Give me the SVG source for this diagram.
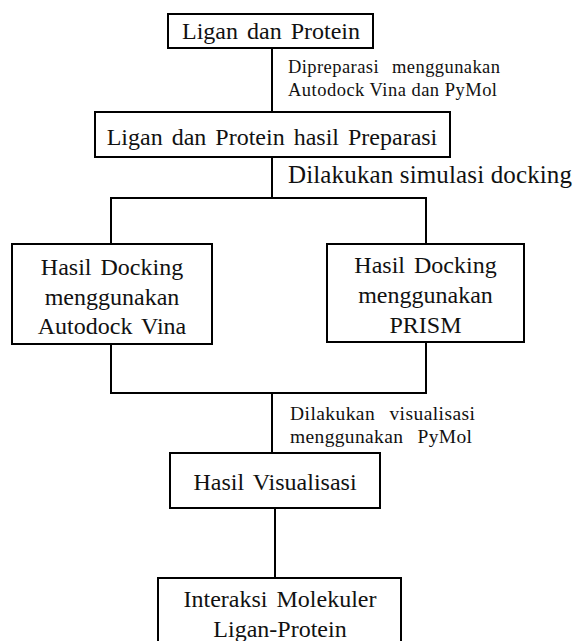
<svg xmlns="http://www.w3.org/2000/svg" width="573" height="641" viewBox="0 0 573 641">
<style>
.box{fill:#fff;stroke:#000;stroke-width:2}
.ln{fill:none;stroke:#000;stroke-width:2}
text{font-family:'Liberation Serif',Tinos,'Times New Roman','DejaVu Serif',serif;fill:#111}
.t{font-size:24px;text-anchor:middle;word-spacing:3px}
.s{font-size:18.5px}
.v{font-size:19.5px;word-spacing:9px}
.m{font-size:25px}
</style>
<rect width="573" height="641" fill="#fff"/>
<g id="connectors">
<line class="ln" x1="272" y1="48" x2="272" y2="112"/>
<line class="ln" x1="272" y1="157" x2="272" y2="198"/>
<polyline class="ln" points="111,244 111,198 426,198 426,244"/>
<polyline class="ln" points="111,344 111,393 426,393 426,342"/>
<line class="ln" x1="272" y1="393" x2="272" y2="453"/>
<line class="ln" x1="275" y1="508" x2="275" y2="578"/>
<text class="s" x="288" y="73" style="word-spacing:8px" textLength="212" lengthAdjust="spacing">Dipreparasi menggunakan</text>
<text class="s" x="288" y="96" textLength="209" lengthAdjust="spacing">Autodock Vina dan PyMol</text>
<text class="m" x="288" y="183" textLength="284" lengthAdjust="spacing">Dilakukan simulasi docking</text>
<text class="v" x="290" y="420" textLength="185" lengthAdjust="spacing">Dilakukan visualisasi</text>
<text class="v" x="290" y="443" textLength="182" lengthAdjust="spacing">menggunakan PyMol</text>
</g>
<g id="n1">
<rect class="box" x="168" y="14" width="205" height="34"/>
<text class="t" x="271" y="39">Ligan dan Protein</text>
</g>
<g id="n2">
<rect class="box" x="95" y="112" width="355" height="45"/>
<text class="t" x="272" y="145">Ligan dan Protein hasil Preparasi</text>
</g>
<g id="n3">
<rect class="box" x="12" y="244" width="200" height="100"/>
<text class="t" x="112" y="275">Hasil Docking</text>
<text class="t" x="112" y="305">menggunakan</text>
<text class="t" x="112" y="334">Autodock Vina</text>
</g>
<g id="n4">
<rect class="box" x="327" y="244" width="197" height="98"/>
<text class="t" x="425.5" y="273">Hasil Docking</text>
<text class="t" x="425.5" y="303">menggunakan</text>
<text class="t" x="425.5" y="333">PRISM</text>
</g>
<g id="n5">
<rect class="box" x="170" y="453" width="210" height="55"/>
<text class="t" x="275" y="490">Hasil Visualisasi</text>
</g>
<g id="n6">
<rect class="box" x="158" y="578" width="243" height="80"/>
<text class="t" x="280" y="607">Interaksi Molekuler</text>
<text class="t" x="280" y="637">Ligan-Protein</text>
</g>
</svg>
